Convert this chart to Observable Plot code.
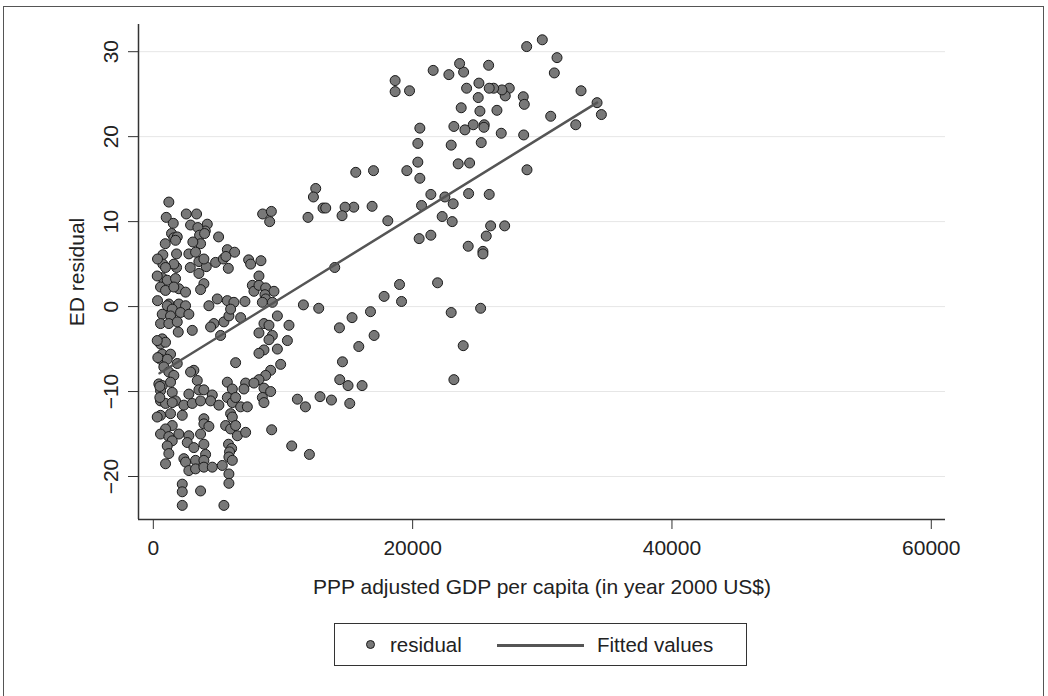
<!DOCTYPE html>
<html>
<head>
<meta charset="utf-8">
<script src="https://cdn.jsdelivr.net/npm/d3@7"></script>
<script src="https://cdn.jsdelivr.net/npm/@observablehq/plot@0.6"></script>
<style>
  html, body { margin: 0; padding: 0; background: #fff; }
  body { width: 1048px; height: 696px; overflow: hidden; font-family: "Liberation Sans", Arial, Helvetica, sans-serif; color: #222; }
  #wrap { position: relative; width: 1048px; height: 696px; }
  #frame { position: absolute; left: 3px; top: 6px; width: 1041px; height: 710px; border: 1.5px solid #555; box-sizing: border-box; }
  #chart { position: absolute; left: 0; top: 0; }
  #legend { position: absolute; left: 334px; top: 623px; width: 413px; height: 43px; border: 1px solid #333; box-sizing: border-box; background: #fff; }
  .lg-dot { position: absolute; left: 31px; top: 16px; width: 9px; height: 9px; border-radius: 50%; background: #787878; border: 1px solid #1a1a1a; box-sizing: border-box; }
  .lg-txt { position: absolute; top: 9px; font-size: 20.5px; line-height: 24px; color: #222; white-space: nowrap; }
  .lg-line { position: absolute; left: 162px; top: 20px; width: 87px; height: 2.5px; background: #555; }
</style>
</head>
<body>
<div id="wrap">
  <div id="frame"></div>
  <div id="chart"></div>
  <div id="legend">
    <span class="lg-dot"></span>
    <span class="lg-txt" style="left:55px">residual</span>
    <span class="lg-line"></span>
    <span class="lg-txt" style="left:262px">Fitted values</span>
  </div>
</div>
<script>
// PPP adjusted GDP per capita (year 2000 US$)
const gdp = [
  28795,30000,31135,30927,32988,34224,34556,32579,30648,28564,28819,28533,28610,27452,27143,26888,26247,25907,25861,25112,
  25058,25189,26502,26834,25522,25498,24672,25290,24162,23931,23622,22795,21583,23745,23181,24031,22973,23513,24394,20556,
  20401,20401,20556,19552,18649,18649,19761,21405,22487,23127,24317,25907,20687,22278,23050,26015,27097,25676,20502,21405,
  24285,25421,25421,18085,16873,16981,15614,15459,14788,14556,13089,13297,12525,12347,11930,13992,18989,21923,17799,19143,
  16749,15328,14355,17027,15846,14587,14378,15019,16101,15150,12857,13737,11730,12038,22973,25243,23900,23181,11575,12757,
  8432,9104,8973,1197,996,2541,3336,1537,2873,4162,4008,3436,5035,3568,3645,3050,3954,1405,1583,1846,
  919,734,1792,2741,2849,3514,3514,4085,4803,5398,5707,6270,5598,5784,7351,7506,8301,8147,1792,1583,
  734,942,1714,3259,3900,687,1073,1714,3900,3645,556,942,1969,2486,4934,5707,1197,1969,7637,7761,
  8147,8664,9305,8610,8664,8409,9181,6216,7066,1073,2486,1459,4286,687,1328,2100,2741,556,1197,1846,
  1923,3004,4672,5444,5830,5961,4417,5189,687,556,942,687,1328,556,1073,811,1846,1197,1583,3127,
  2873,3390,6347,425,687,1328,556,1459,2741,3514,3900,4548,5707,6093,556,942,1714,2355,3004,3645,
  4417,5058,5707,6093,6734,9568,8533,8919,10463,8147,9181,8919,10340,8533,8147,9568,9822,9050,8664,8147,
  7120,7761,6988,8533,9050,6347,8409,8533,6734,7251,11112,1459,556,1328,2232,3900,3900,4286,5575,5961,
  1459,942,556,1197,1969,2741,1459,2618,3645,3900,3127,1073,1197,5800,6040,4031,2355,3259,3900,942,
  2486,2741,3259,3900,4548,5320,5830,2232,2232,3645,5830,2232,5444,5961,6093,6347,6479,7120,9127,10672,
  5880,5830,6093,301,1583,301,347,502,301,502,324,324
];
// ED residual
const residual = [
  30.6,31.4,29.3,27.5,25.4,24.0,22.6,21.4,22.4,20.2,16.1,24.7,23.8,25.7,24.8,25.5,25.7,25.7,28.4,26.3,
  24.6,23.0,23.1,20.4,21.4,21.1,21.4,19.3,25.7,27.6,28.6,27.3,27.8,23.4,21.2,20.8,19.0,16.8,16.9,21.0,
  19.2,17.0,15.1,16.0,26.6,25.3,25.4,13.2,12.9,12.1,13.3,13.2,11.9,10.6,10.0,9.5,9.5,8.3,8.0,8.4,
  7.1,6.5,6.2,10.1,11.8,16.0,15.8,11.7,11.7,10.7,11.6,11.6,13.9,12.9,10.5,4.6,2.6,2.8,1.2,0.6,
  -0.6,-1.3,-2.5,-3.4,-4.7,-6.5,-8.6,-9.3,-9.3,-11.4,-10.6,-11.0,-11.8,-17.4,-0.7,-0.2,-4.6,-8.6,0.2,-0.2,
  10.9,11.2,10.0,12.3,10.5,10.9,10.9,9.8,9.6,9.7,8.9,9.3,8.2,8.4,7.4,7.6,8.6,8.6,8.1,8.2,
  7.4,6.1,6.2,6.2,4.6,5.3,3.9,4.7,5.2,5.6,6.7,6.4,5.9,4.5,5.5,5.0,5.4,3.6,4.6,5.0,
  5.0,4.6,7.8,6.4,5.6,3.4,3.1,3.3,2.7,2.0,2.3,1.9,2.1,1.7,0.9,0.7,0.3,0.3,2.5,1.8,
  2.5,2.2,1.8,1.4,0.9,0.5,0.5,0.5,0.6,0.1,0.1,-0.3,0.1,-0.9,-1.1,-0.7,-0.9,-2.0,-2.0,-1.8,
  -3.0,-2.8,-2.0,-1.8,-1.1,-0.3,-2.4,-3.4,-3.8,-4.4,-4.2,-5.6,-5.6,-6.2,-6.2,-7.1,-6.7,-7.7,-8.1,-7.5,
  -7.7,-8.7,-6.6,-9.1,-9.3,-8.9,-9.9,-10.1,-10.3,-9.8,-9.8,-10.4,-8.9,-9.7,-11.1,-11.4,-11.1,-11.6,-11.4,-11.1,
  -11.1,-11.6,-10.7,-11.3,-1.3,-1.1,-2.0,-2.2,-2.2,-3.1,-3.4,-3.9,-4.0,-5.1,-5.5,-5.0,-6.8,-7.5,-8.1,-8.6,
  -9.0,-9.0,-9.7,-9.6,-10.0,-10.7,-10.7,-11.3,-11.8,-11.8,-10.9,-11.3,-12.8,-12.6,-12.8,-13.2,-13.8,-14.1,-14.0,-14.4,
  -14.0,-14.4,-15.0,-15.3,-15.0,-15.2,-15.8,-16.0,-15.0,-16.2,-16.6,-16.4,-17.3,-16.2,-16.7,-17.4,-17.9,-18.1,-18.1,-18.5,
  -18.3,-19.3,-19.1,-18.9,-18.9,-18.7,-19.7,-20.9,-21.8,-21.7,-20.8,-23.4,-23.4,-12.6,-13.0,-14.0,-15.2,-14.8,-14.5,-16.4,
  -17.1,-17.7,-18.1,3.6,2.3,-4.0,-6.0,-9.4,-13.0,-10.7,5.6,0.7
];
// Fitted values (end points of the fitted line)
const fitGdp = [479, 34224];
const fitValue = [-7.85, 24.0];

// Axis ticks and extents
const xTicks = [0, 20000, 40000, 60000];
const yTicks = [-20, -10, 0, 10, 20, 30];
const xExtent = [-1143, 61096];
const yExtent = [-25.06, 33.2];

const points = gdp.map((g, i) => ({gdp: g, residual: residual[i]}));
const fit = fitGdp.map((g, i) => ({gdp: g, value: fitValue[i]}));
const fmtY = d => (d < 0 ? "\u2212" + Math.abs(d) : String(d));
const font = "'Liberation Sans', Arial, Helvetica, sans-serif";

const chart = Plot.plot({
  width: 1048,
  height: 600,
  marginLeft: 138,
  marginRight: 103,
  marginTop: 24,
  marginBottom: 81,
  style: {fontFamily: font, color: "#222", background: "transparent"},
  x: {domain: xExtent, axis: null},
  y: {domain: yExtent, axis: null},
  marks: [
    Plot.gridY(yTicks, {stroke: "#e6e6e6", strokeOpacity: 1, strokeWidth: 1}),
    Plot.axisY(yTicks, {tickSize: 10, tickFormat: () => "", label: null, stroke: "#333", strokeWidth: 1}),
    Plot.text(yTicks, {x: () => xExtent[0], y: d => d, text: fmtY, rotate: -90, dx: -27, fontSize: 21, textAnchor: "middle", lineAnchor: "middle", fill: "#222"}),
    Plot.axisX(xTicks, {tickSize: 10, tickPadding: 11, fontSize: 21, label: null, tickFormat: d => String(d), stroke: "#333", fill: "#222"}),
    Plot.ruleX([xExtent[0]], {stroke: "#333", strokeWidth: 1.5}),
    Plot.ruleY([yExtent[0]], {stroke: "#333", strokeWidth: 1.5}),
    Plot.text(["ED residual"], {frameAnchor: "left", rotate: -90, dx: -61, fontSize: 21, textAnchor: "middle", lineAnchor: "middle", fill: "#222"}),
    Plot.text(["PPP adjusted GDP per capita (in year 2000 US$)"], {frameAnchor: "bottom", dy: 60, fontSize: 21, textAnchor: "middle", lineAnchor: "top", fill: "#222"}),
    Plot.dot(points, {x: "gdp", y: "residual", r: 5, fill: "#787878", fillOpacity: 1, stroke: "#1a1a1a", strokeWidth: 1}),
    Plot.line(fit, {x: "gdp", y: "value", stroke: "#555", strokeWidth: 2.5})
  ]
});
document.getElementById("chart").appendChild(chart);
</script>
</body>
</html>
